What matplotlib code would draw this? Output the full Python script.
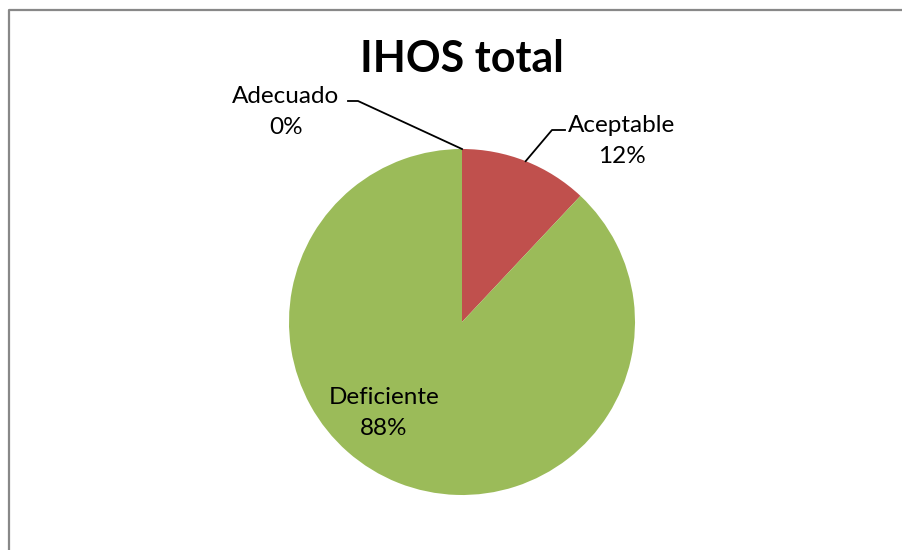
import numpy as np
import matplotlib.pyplot as plt
from matplotlib.lines import Line2D

# データ
categorias = ["Adecuado", "Aceptable", "Deficiente"]
valores = [0, 12, 88]
colores = ["#4F81BD", "#C0504D", "#9BBB59"]
titulo = "IHOS total"

W, H = 903, 550
plt.rcParams['font.family'] = ['Lato', 'DejaVu Sans']

fig = plt.figure(figsize=(W / 100, H / 100), dpi=100)
ax = fig.add_axes([0, 0, 1, 1])

# 円グラフ（ピクセル座標、y は下から）
cx, cy, r = 462, H - 322, 173
ax.pie(valores, colors=colores, startangle=90, counterclock=False,
       center=(cx, cy), radius=r, frame=True,
       wedgeprops=dict(linewidth=0))
ax.set_xlim(0, W)
ax.set_ylim(0, H)
ax.set_aspect('equal')
ax.axis('off')

# 各スライスの中央角
total = sum(valores)
ang = []
acc = 0
for v in valores:
    mid = 90 - (acc + v / 2) / total * 360
    ang.append(np.deg2rad(mid))
    acc += v


def borde(i, f=1.0):
    return cx + f * r * np.cos(ang[i]), cy + f * r * np.sin(ang[i])


fs = 17.5
ls = 1.55
# Adecuado
x0, y0 = borde(0)
ax.plot([x0, 358, 348], [y0, H - 101, H - 101], color='black', lw=1.3)
ax.text(286, H - 112, f"{categorias[0]}\n{valores[0]}%", ha='center', va='center',
        fontsize=fs, linespacing=ls)
# Aceptable
x1, y1 = borde(1)
ax.plot([x1, 552, 565], [y1, H - 130, H - 130], color='black', lw=1.3)
ax.text(622, H - 141, f"{categorias[1]}\n{valores[1]}%", ha='center', va='center',
        fontsize=fs, linespacing=ls)
# Deficiente
ax.text(384, H - 413, f"{categorias[2]}\n{valores[2]}%", ha='center', va='center',
        fontsize=fs, linespacing=ls)

# タイトル
ax.text(cx, H - 59, titulo, ha='center', va='center', fontsize=31, fontweight='bold')

# 枠線（左と上のみ見える）
bx, by = 9.5 / W, 1 - 9.5 / H
fig.add_artist(Line2D([bx, bx, 1.01], [-0.01, by, by], transform=fig.transFigure,
                      color='#888888', linewidth=1.6))

fig.savefig("out.png", dpi=100)
